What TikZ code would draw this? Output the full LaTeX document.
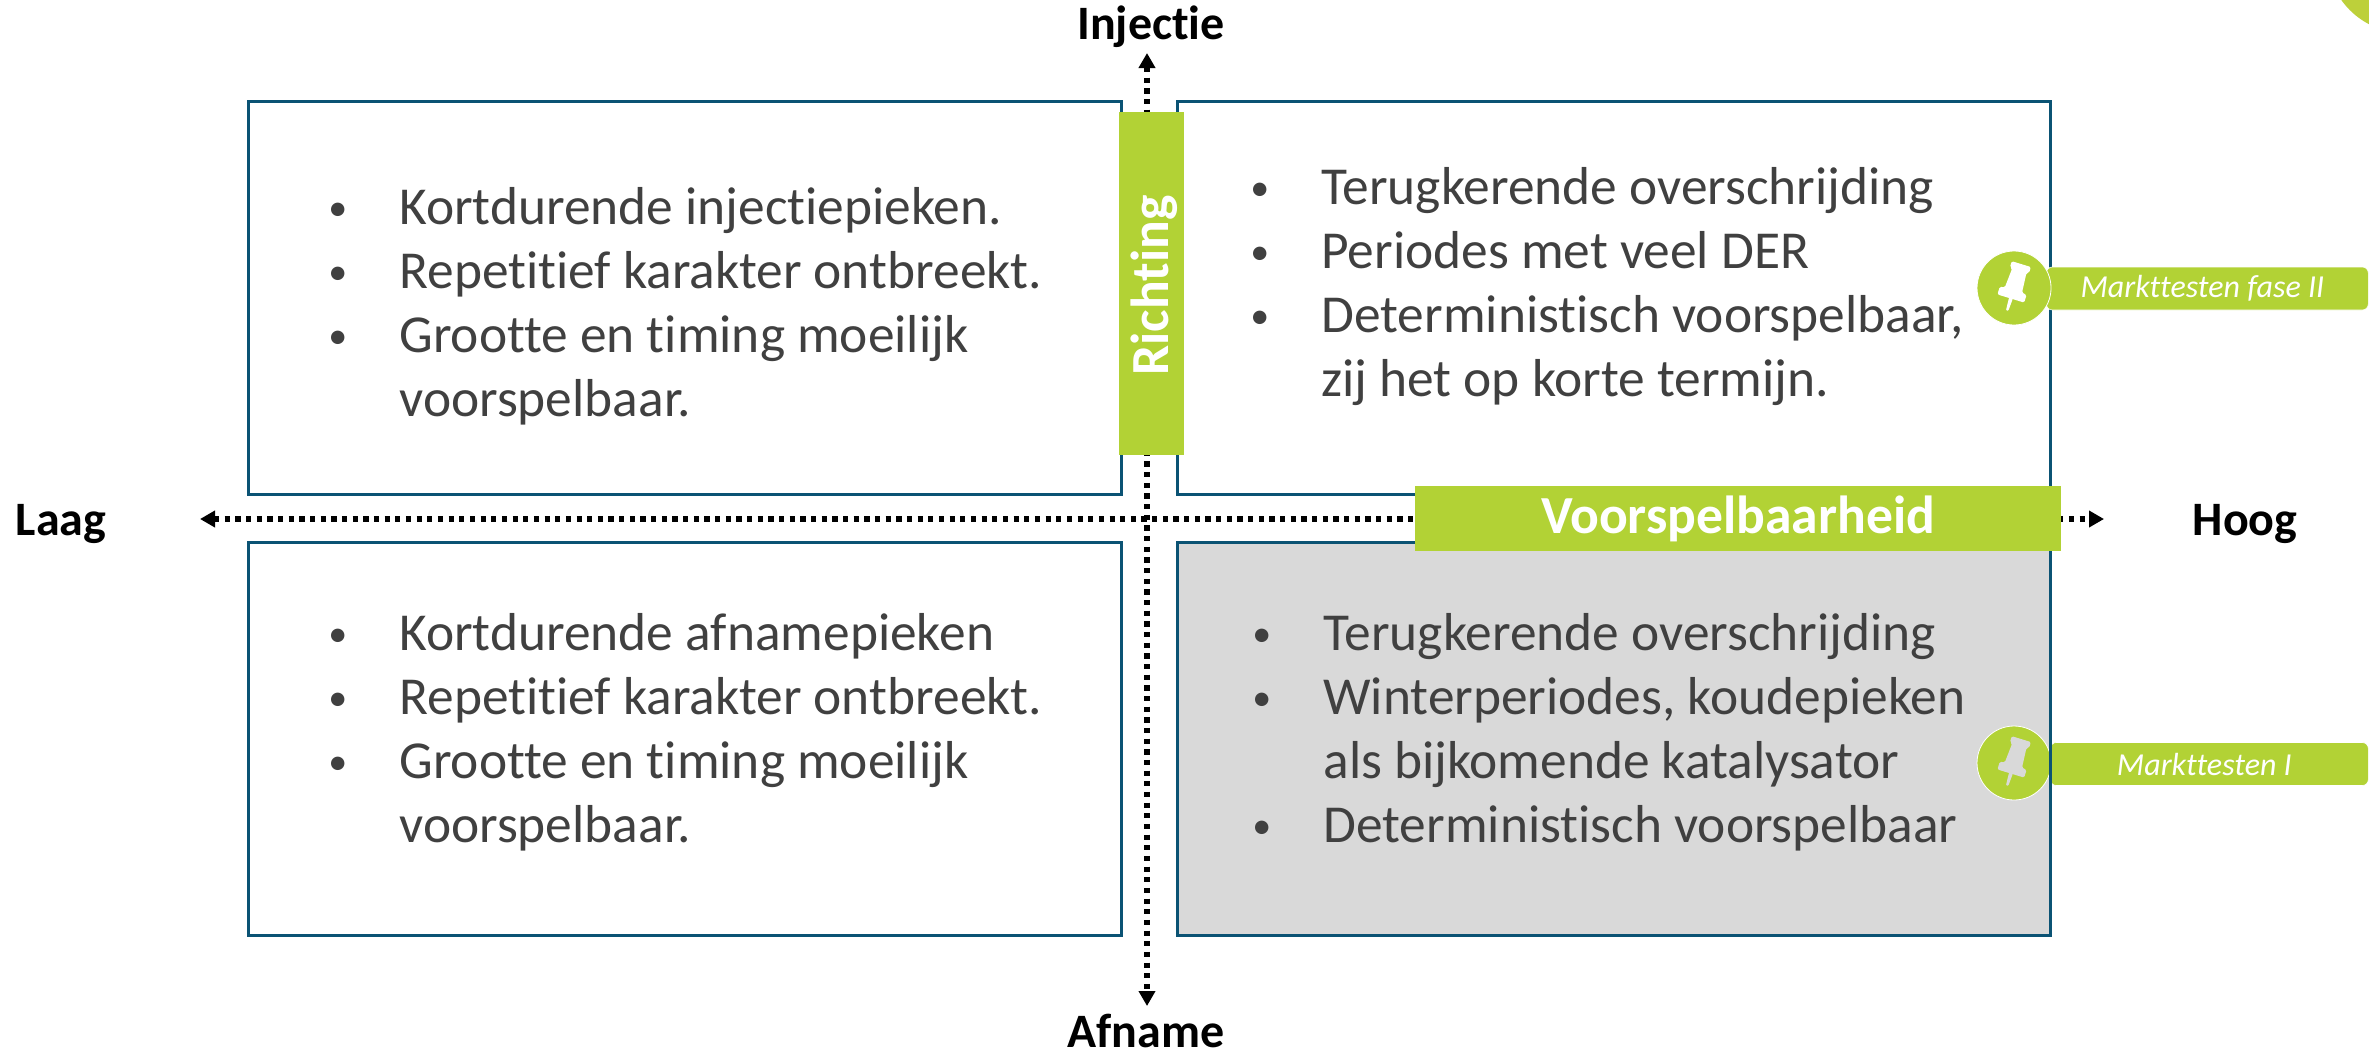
\documentclass[tikz,border=0pt]{standalone}
\usepackage{fontspec}
\setmainfont{Carlito}[Ligatures=NoCommon]
\usepackage{array}
\usetikzlibrary{arrows.meta, positioning}
\definecolor{kwadrantlijn}{HTML}{0B5374}
\definecolor{groen}{HTML}{B2D235}
\definecolor{hoekgroen}{HTML}{BDD03A}
\definecolor{lijsttekst}{HTML}{404040}
\definecolor{grijs}{HTML}{D9D9D9}
\newcommand{\puntlijst}[1]{\begin{tabular}[t]{@{}p{35.5pt}@{}l@{}}#1\end{tabular}}
\newcommand{\punt}{{\fontsize{19}{19}\selectfont\raisebox{2pt}{\textbullet}}}
\tikzset{
  kwadrant/.style={rectangle, outer sep=0pt, inner sep=0pt, minimum width=436.5pt, minimum height=196.5pt},
  kwadrantrand/.style={draw=kwadrantlijn, line width=1.5pt},
  lijst/.style={anchor=base west, inner sep=0pt, text=lijsttekst, font=\fontsize{26.7}{32}\selectfont},
  aslabel/.style={inner sep=0pt, font=\fontsize{24}{24}\selectfont\bfseries},
  asbalk/.style={fill=groen, text=white, inner sep=0pt, outer sep=0pt, font=\fontsize{26.8}{30}\selectfont\bfseries},
  aslijn/.style={line width=2.6pt, dash pattern=on 2.6pt off 2.73pt, {Triangle[length=7.5pt,width=8pt]}-{Triangle[length=7.5pt,width=8pt]}},
  pincirkel/.style={circle, fill=groen, draw=white, line width=0.4pt, minimum size=37pt, inner sep=0pt},
  testlabel/.style={rectangle, rounded corners=3pt, fill=groen, draw=white, line width=0.3pt, anchor=west, minimum height=21.5pt, inner sep=0pt, text=white, font=\fontsize{16}{18}\selectfont\itshape},
  pics/punaise/.style={code={
    \fill[#1, rounded corners=0.7pt] (-10,-25) -- (10,-25) -- (10,-19) -- (7.5,-18) -- (9,2) -- (14,3) -- (14,11) -- (-14,11) -- (-14,3) -- (-9,2) -- (-7.5,-18) -- (-10,-19) -- cycle;
    \fill[#1, rounded corners=0.7pt] (-2,10) -- (2,10) -- (1.2,24) -- (-1.2,24) -- cycle;
  }}
}
\begin{document}
\begin{tikzpicture}[x=0.5pt,y=-0.5pt]
  \useasboundingbox (0,0) rectangle (2369,1050);
  \begin{scope}
    \clip (0,0) rectangle (2369,1050);
    \node (hoek) [circle, fill=hoekgroen, minimum size=78pt] at (2405,-45) {};
  \end{scope}

  \node (tl) [kwadrant, kwadrantrand] at (684.5,297.5) {};
  \node (tr) [kwadrant, kwadrantrand, right=28pt of tl] {};
  \node (bl) [kwadrant, kwadrantrand, below=24pt of tl] {};
  \node (br) [kwadrant, fill=grijs, right=28pt of bl] {};

  \coordinate (links) at (200,519);
  \coordinate (rechts) at (2104,519);
  \coordinate (boven) at (1147,53);
  \coordinate (onder) at (1147,1006);
  \draw[aslijn] (links) -- (rechts);
  \draw[aslijn] (boven) -- (onder);

  \node (injectie) [aslabel] at (1151,27) {Injectie};
  \node (afname) [aslabel] at (1146,1031) {Afname};
  \node (laag) [aslabel] at (61,524) {Laag};
  \node (hoog) [aslabel] at (2245,524) {Hoog};

  \node (tllijst) [lijst] at (328,224) {\puntlijst{
    \punt & Kortdurende injectiepieken.\\
    \punt & Repetitief karakter ontbreekt.\\
    \punt & Grootte en timing moeilijk\\
    & voorspelbaar.}};
  \node (trlijst) [lijst] at (1250,204) {\puntlijst{
    \punt & Terugkerende overschrijding\\
    \punt & Periodes met veel DER\\
    \punt & Deterministisch voorspelbaar,\\
    & zij het op korte termijn.}};
  \node (bllijst) [lijst] at (328,650) {\puntlijst{
    \punt & Kortdurende afnamepieken\\
    \punt & Repetitief karakter ontbreekt.\\
    \punt & Grootte en timing moeilijk\\
    & voorspelbaar.}};
  \node (brlijst) [lijst] at (1252,650) {\puntlijst{
    \punt & Terugkerende overschrijding\\
    \punt & Winterperiodes, koudepieken\\
    & als bijkomende katalysator\\
    \punt & Deterministisch voorspelbaar}};

  \node (testb) [testlabel, minimum width=159pt] at (2050,764) {Markttesten I\kern5pt};
  \node (pinb) [pincirkel] at (2014,763) {};
  \pic[rotate=-17] at (pinb) {punaise=grijs};
  \draw[kwadrantrand] (br.north west) rectangle (br.south east);

  \node (testa) [testlabel, minimum width=161pt] at (2046,288.5) {Markttesten fase II\kern5pt};
  \node (pina) [pincirkel] at (2014,288) {};
  \pic[rotate=-17] at (pina) {punaise=white};

  \node (richting) [asbalk, minimum width=171.5pt, minimum height=32.5pt, rotate=90] at (1151.5,283.5) {\rule{0pt}{22pt}Richting\kern2pt};
  \node (voorspelbaarheid) [asbalk, minimum width=323pt, minimum height=32.5pt] at (1738,518.5) {Voorspelbaarheid};
\end{tikzpicture}
\end{document}
